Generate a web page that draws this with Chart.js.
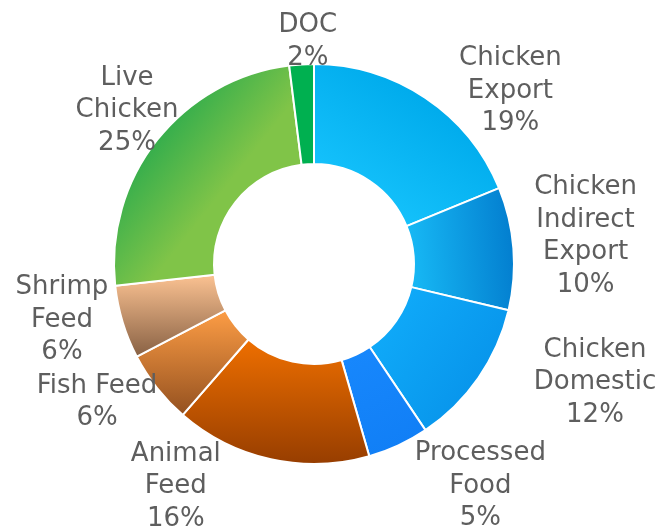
<!DOCTYPE html>
<html>
<head>
<meta charset="utf-8">
<script src="https://cdn.jsdelivr.net/npm/chart.js@4.4.1/dist/chart.umd.min.js"></script>
<style>
    html, body { margin: 0; padding: 0; background: #ffffff; }
    canvas { display: block; }
</style>
</head>
<body>
<canvas id="chart" width="668" height="529"></canvas>
<script>
// ================= DATA =================
const categories = ["Chicken Export", "Chicken Indirect Export", "Chicken Domestic", "Processed Food",
    "Animal Feed", "Fish Feed", "Shrimp Feed", "Live Chicken", "DOC"];
const shares = [19, 10, 12, 5, 16, 6, 6, 25, 2];

// label line breaks (as in the original)
const labelLines = [["Chicken", "Export"], ["Chicken", "Indirect", "Export"], ["Chicken", "Domestic"],
    ["Processed", "Food"], ["Animal", "Feed"], ["Fish Feed"], ["Shrimp", "Feed"], ["Live", "Chicken"], ["DOC"]];

// ================= STYLE =================
// mode: "radial" = linear along the slice middle (inner -> outer), "vertical" = top -> bottom
// hold = where the "from" colour stops holding
const sliceStyles = [
    { mode: "radial",   from: "#14c1fb", to: "#00abec", hold: 0 },
    { mode: "radial",   from: "#17b9f5", to: "#037ecf", hold: 0 },
    { mode: "radial",   from: "#0fa9f8", to: "#0896ec", hold: 0 },
    { mode: "radial",   from: "#1787fc", to: "#117ff6", hold: 0 },
    { mode: "vertical", from: "#ee6f00", to: "#963d00", hold: 0 },
    { mode: "vertical", from: "#fd9d45", to: "#93501f", hold: 0 },
    { mode: "vertical", from: "#fbc292", to: "#876043", hold: 0 },
    { mode: "radial",   from: "#80c448", to: "#36ae4c", hold: 0.35 },
    { mode: "radial",   from: "#00b050", to: "#00b050", hold: 0 }
];
const cutoutPct = 50;
const labelFont = "26px 'DejaVu Sans'";
const labelColor = "#5e5e5e";
const lineHeight = 32.5;
const labelGap = 15;
// small shifts so labels sit where Excel put them
const labelNudge = [[48, 46], [6, -6], [54, -32], [48, -17], [-82, -35], [-1, -15], [-2, -21], [22, 10], [9, 25]];

function sliceFill(ctx, cx, cy, r0, r1, a0, a1, st) {
    let vx, vy;
    if (st.mode === "vertical") { vx = 0; vy = 1; }
    else { const am = (a0 + a1) / 2; vx = Math.cos(am); vy = Math.sin(am); }
    let lo = Infinity, hi = -Infinity;
    for (let k = 0; k <= 24; k++) {
        const a = a0 + (a1 - a0) * k / 24;
        [r0, r1].forEach(r => {
            const p = (Math.cos(a) * vx + Math.sin(a) * vy) * r;
            lo = Math.min(lo, p); hi = Math.max(hi, p);
        });
    }
    const g = ctx.createLinearGradient(cx + vx * lo, cy + vy * lo, cx + vx * hi, cy + vy * hi);
    g.addColorStop(0, st.from);
    g.addColorStop(st.hold, st.from);
    g.addColorStop(1, st.to);
    return g;
}

function sliceColor(c) {
    const st = sliceStyles[c.dataIndex];
    const area = c.chart.chartArea;
    if (!area || c.dataIndex === undefined) return st ? st.to : "#ccc";
    const cx = (area.left + area.right) / 2, cy = (area.top + area.bottom) / 2;
    const r1 = Math.min(area.width, area.height) / 2;
    const r0 = r1 * cutoutPct / 100;
    const total = shares.reduce((a, b) => a + b, 0);
    let start = -Math.PI / 2;
    for (let j = 0; j < c.dataIndex; j++) start += shares[j] / total * Math.PI * 2;
    const end = start + shares[c.dataIndex] / total * Math.PI * 2;
    return sliceFill(c.chart.ctx, cx, cy, r0, r1, start, end, st);
}

// ================= LABELS OUTSIDE THE RING =================
const outsideLabels = {
    id: "outsideLabels",
    afterDatasetsDraw(chart) {
        const ctx = chart.ctx;
        const meta = chart.getDatasetMeta(0);
        ctx.save();
        ctx.font = labelFont;
        ctx.fillStyle = labelColor;
        ctx.textAlign = "center";
        ctx.textBaseline = "middle";
        meta.data.forEach((arc, i) => {
            const p = arc.getProps(["x", "y", "startAngle", "endAngle", "outerRadius"], true);
            const mid = (p.startAngle + p.endAngle) / 2;
            const ux = Math.cos(mid), uy = Math.sin(mid);
            const lines = labelLines[i].concat([shares[i] + "%"]);
            const w = Math.max(...lines.map(t => ctx.measureText(t).width));
            const h = lines.length * lineHeight;
            const ax = p.x + ux * (p.outerRadius + labelGap);
            const ay = p.y + uy * (p.outerRadius + labelGap);
            const bx = ax + ux * w / 2 + labelNudge[i][0];
            const by = ay + uy * h / 2 + labelNudge[i][1];
            lines.forEach((t, k) => {
                ctx.fillText(t, bx, by + (k - (lines.length - 1) / 2) * lineHeight);
            });
        });
        ctx.restore();
    }
};

const ctx = document.getElementById("chart").getContext("2d");
window.shareChart = new Chart(ctx, {
    type: "doughnut",
    data: {
        labels: categories,
        datasets: [{
            data: shares,
            backgroundColor: sliceColor,
            borderColor: "#ffffff",
            borderWidth: 2
        }]
    },
    options: {
        responsive: false,
        animation: false,
        cutout: cutoutPct + "%",
        layout: { padding: { top: 63, bottom: 64, left: 0, right: 40 } },
        plugins: {
            legend: { display: false },
            tooltip: { enabled: false }
        }
    },
    plugins: [outsideLabels]
});
</script>
</body>
</html>
